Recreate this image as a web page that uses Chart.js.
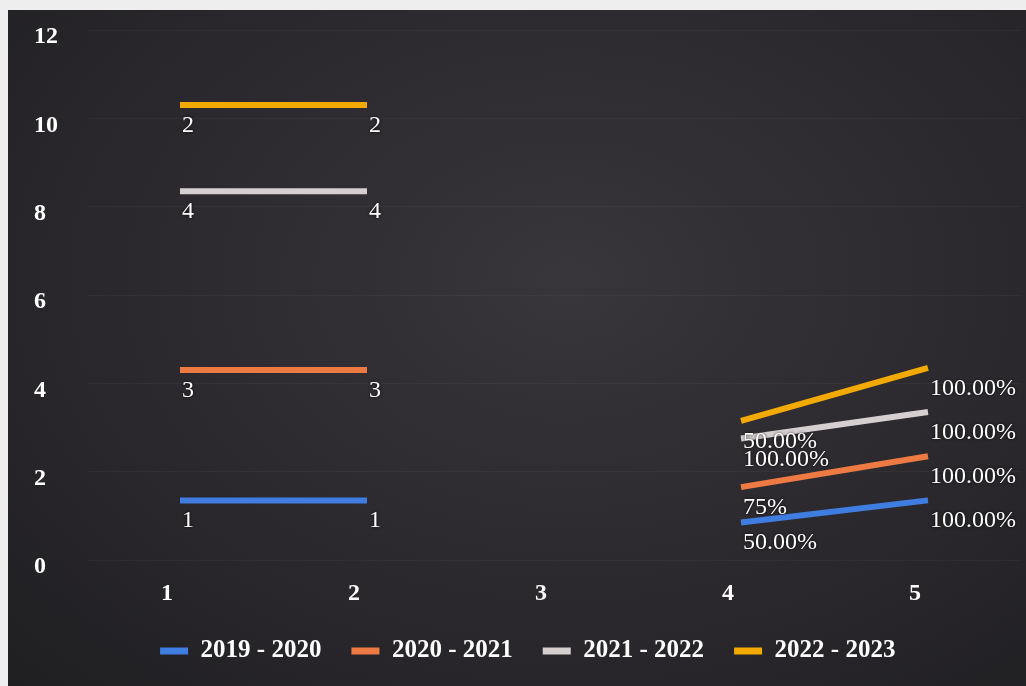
<!DOCTYPE html>
<html>
<head>
<meta charset="utf-8">
<script src="https://cdn.jsdelivr.net/npm/chart.js@4.4.1/dist/chart.umd.min.js"></script>
<style>
  html, body { margin: 0; padding: 0; background: #eeeeee; }
  #panel {
    position: absolute; left: 8px; top: 10px; width: 1018px; height: 676px;
    background: radial-gradient(ellipse at 55% 40%, #38353b 0%, #2b292d 55%, #1f1e21 100%);
  }
  #wrap { position: absolute; left: 0; top: 0; width: 1026px; height: 686px; }
</style>
</head>
<body>
<div id="panel"></div>
<div id="wrap"><canvas id="mycanvas" width="1026" height="686"></canvas></div>
<script>
// categories on the x axis
var categories = ['1', '2', '3', '4', '5'];
var yTicks = [0, 2, 4, 6, 8, 10, 12];

var seriesNames = ['2019 - 2020', '2020 - 2021', '2021 - 2022', '2022 - 2023'];

// plotted heights
var values2019 = [1.35, 1.35, null, 0.85, 1.35];
var values2020 = [4.3, 4.3, null, 1.65, 2.35];
var values2021 = [8.35, 8.35, null, 2.75, 3.35];
var values2022 = [10.3, 10.3, null, 3.15, 4.35];

// text shown next to each point
var labels2019 = ['1', '1', null, '50.00%', '100.00%'];
var labels2020 = ['3', '3', null, '75%', '100.00%'];
var labels2021 = ['4', '4', null, '100.00%', '100.00%'];
var labels2022 = ['2', '2', null, '50.00%', '100.00%'];

var colors = ['#3f7de0', '#ee7a43', '#d6cfcf', '#f2a900'];

var serif = "'Liberation Serif', 'Times New Roman', serif";

function makeSet(i, data, pointLabels) {
  return {
    label: seriesNames[i],
    data: data,
    pointLabels: pointLabels,
    borderColor: colors[i],
    backgroundColor: colors[i],
    borderWidth: 6,
    borderCapStyle: 'butt',
    pointRadius: 0,
    pointHoverRadius: 0,
    fill: false,
    tension: 0,
    spanGaps: false
  };
}

// draws the value texts under/next to every point
var pointText = {
  id: 'pointText',
  afterDatasetsDraw: function(chart) {
    var ctx = chart.ctx;
    ctx.save();
    ctx.font = '24px ' + serif;
    ctx.fillStyle = '#ffffff';
    ctx.textAlign = 'left';
    ctx.textBaseline = 'alphabetic';
    ctx.shadowColor = 'rgba(0,0,0,0.9)';
    ctx.shadowBlur = 3;
    chart.data.datasets.forEach(function(ds, i) {
      var meta = chart.getDatasetMeta(i);
      meta.data.forEach(function(pt, j) {
        var t = ds.pointLabels[j];
        if (t == null || ds.data[j] == null) return;
        ctx.fillText(t, pt.x + 2, pt.y + 27);
      });
    });
    ctx.restore();
  }
};

var chartdata = {
  labels: categories,
  datasets: [
    makeSet(0, values2019, labels2019),
    makeSet(1, values2020, labels2020),
    makeSet(2, values2021, labels2021),
    makeSet(3, values2022, labels2022)
  ]
};

var ctx = document.getElementById('mycanvas');

var LineGraph = new Chart(ctx, {
  type: 'line',
  data: chartdata,
  plugins: [pointText],
  options: {
    responsive: false,
    animation: false,
    layout: { padding: { left: 34, right: 4.5, top: 30, bottom: 12.5 } },
    plugins: {
      tooltip: { enabled: false },
      legend: {
        position: 'bottom',
        labels: {
          color: '#ffffff',
          boxWidth: 28,
          boxHeight: 7,
          padding: 30,
          font: { family: serif, size: 25, weight: 'bold' },
          generateLabels: function(chart) {
            var items = Chart.defaults.plugins.legend.labels.generateLabels(chart);
            items.forEach(function(it) { it.lineWidth = 0; });
            return items;
          }
        }
      }
    },
    scales: {
      x: {
        offset: true,
        grid: { display: false },
        border: { display: false },
        ticks: {
          color: '#ffffff',
          padding: 11,
          labelOffset: -13,
          font: { family: serif, size: 24, weight: 'bold' }
        },
        afterFit: function(s) { s.height = 48.5; }
      },
      y: {
        min: 0,
        max: 12,
        afterBuildTicks: function(s) { s.ticks = yTicks.map(function(v) { return { value: v }; }); },
        grid: { color: 'rgba(255,255,255,0.035)', drawTicks: false },
        border: { display: false },
        ticks: {
          color: '#ffffff',
          crossAlign: 'far',
          padding: 0,
          labelOffset: 7,
          font: { family: serif, size: 24, weight: 'bold' }
        },
        afterFit: function(s) { s.width = 52.5; }
      }
    }
  }
});
</script>
</body>
</html>
